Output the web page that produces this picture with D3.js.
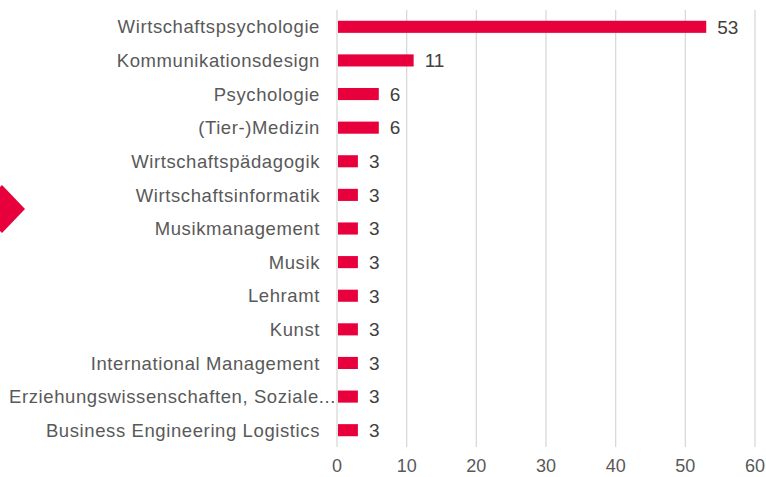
<!DOCTYPE html>
<html>
<head>
<meta charset="utf-8">
<script src="https://cdn.jsdelivr.net/npm/d3@7"></script>
<style>
  body { margin: 0; background: #fff; }
  svg { display: block; font-family: "Liberation Sans", Arial, sans-serif; }
</style>
</head>
<body>
<svg id="chart" width="766" height="477"></svg>
<script>
// data
const categories = [
  "Wirtschaftspsychologie",
  "Kommunikationsdesign",
  "Psychologie",
  "(Tier-)Medizin",
  "Wirtschaftspädagogik",
  "Wirtschaftsinformatik",
  "Musikmanagement",
  "Musik",
  "Lehramt",
  "Kunst",
  "International Management",
  "Erziehungswissenschaften, Soziale...",
  "Business Engineering Logistics"
];
const values = [53, 11, 6, 6, 3, 3, 3, 3, 3, 3, 3, 3, 3];
const xTicks = [0, 10, 20, 30, 40, 50, 60];

const width = 766, height = 477;
const margin = {top: 10, left: 337, right: 11, bottom: 30};
const plotWidth = width - margin.left - margin.right;
const plotHeight = height - margin.top - margin.bottom;

const svg = d3.select("#chart");

const xScale = d3.scaleLinear().domain([0, 60]).range([0, plotWidth]);
const yScale = d3.scaleBand()
    .domain(categories)
    .range([0, plotHeight])
    .paddingInner(0.64)
    .paddingOuter(0.32);

const plot = svg.append("g")
    .attr("transform", `translate(${margin.left}, ${margin.top})`);

// gridlines
plot.append("g")
    .selectAll("line")
    .data(xTicks)
    .join("line")
    .attr("x1", d => xScale(d)).attr("x2", d => xScale(d))
    .attr("y1", 0).attr("y2", plotHeight)
    .attr("stroke", "#d9d9d9")
    .attr("stroke-width", 1.3);

// x tick labels
plot.append("g")
    .selectAll("text")
    .data(xTicks)
    .join("text")
    .attr("x", d => xScale(d))
    .attr("y", plotHeight + 25)
    .attr("text-anchor", "middle")
    .attr("fill", "#595959")
    .style("font-size", "18px")
    .text(d => d);

// bars
const data = categories.map((c, i) => ({cat: c, val: values[i]}));

plot.selectAll(".bar")
    .data(data)
    .join("rect")
    .attr("class", "bar")
    .attr("x", xScale(0) + 1)
    .attr("y", d => yScale(d.cat))
    .attr("width", d => xScale(d.val) - xScale(0) - 1)
    .attr("height", yScale.bandwidth())
    .attr("fill", "#E8003D");

// value labels
plot.selectAll(".valLabel")
    .data(data)
    .join("text")
    .attr("class", "valLabel")
    .attr("x", d => xScale(d.val) + 11)
    .attr("y", d => yScale(d.cat) + yScale.bandwidth() / 2)
    .attr("dy", "0.36em")
    .attr("fill", "#404040")
    .style("font-size", "19px")
    .text(d => d.val);

// category labels (truncated label runs up to the axis, like the original)
plot.selectAll(".catLabel")
    .data(data)
    .join("text")
    .attr("class", "catLabel")
    .attr("x", d => d.cat.endsWith("...") ? -1 : -17)
    .attr("y", d => yScale(d.cat) + yScale.bandwidth() / 2)
    .attr("dy", "0.36em")
    .attr("text-anchor", "end")
    .attr("fill", "#595959")
    .style("font-size", "18.5px")
    .style("letter-spacing", "0.6px")
    .text(d => d.cat);

// red arrow marker on the left edge
svg.append("polygon")
    .attr("points", "-22,209 2,185 25,209 2,233")
    .attr("fill", "#E8003D");
</script>
</body>
</html>
